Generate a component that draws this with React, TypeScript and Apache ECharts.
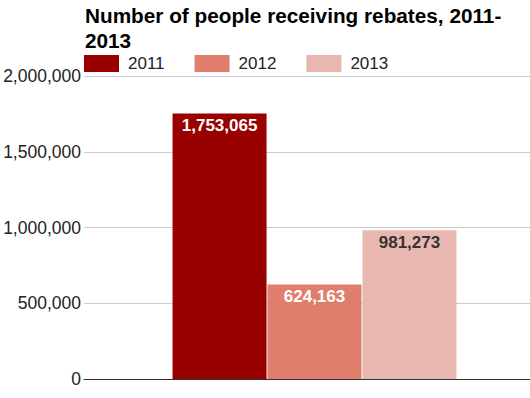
import React, { useEffect, useRef } from "react";
import * as echarts from "echarts";

const categories = ["Rebates"];
const seriesNames = ["2011", "2012", "2013"];
const seriesValues = [1753065, 624163, 981273];
const seriesColors = ["#990000", "#df7e6d", "#e8b8b0"];
const labelColors = ["#ffffff", "#ffffff", "#333333"];
const yTicks = [0, 500000, 1000000, 1500000, 2000000];

const fmt = (v: number) => v.toLocaleString("en-US");

export default function App() {
  const ref = useRef<HTMLDivElement>(null);
  useEffect(() => {
    if (!ref.current) return;
    const chart = echarts.init(ref.current, undefined, { renderer: "svg" });
    const font = "'Liberation Sans', Arial, sans-serif";
    chart.setOption({
      animation: false,
      textStyle: { fontFamily: font },
      title: {
        text: "Number of people receiving rebates, 2011-\n2013",
        left: 80,
        top: -2,
        textStyle: {
          fontFamily: font,
          fontWeight: "bold",
          fontSize: 20.75,
          lineHeight: 25,
          color: "#000",
        },
      },
      legend: {
        data: seriesNames,
        left: 84,
        top: 55,
        itemWidth: 35,
        itemHeight: 17,
        itemGap: 30,
        padding: 0,
        icon: "rect",
        textStyle: { fontFamily: font, fontSize: 17, color: "#222", padding: [0, 0, 0, 4] },
      },
      grid: {
        left: 84,
        right: -15,
        top: 76,
        bottom: 19,
        containLabel: false,
        outerBoundsMode: "none",
      },
      xAxis: {
        type: "category",
        data: categories,
        axisLine: { lineStyle: { color: "#333", width: 1 } },
        axisTick: { show: false },
        axisLabel: { show: false },
      },
      yAxis: {
        type: "value",
        min: yTicks[0],
        max: yTicks[yTicks.length - 1],
        interval: 500000,
        axisLine: { show: false },
        axisTick: { show: false },
        splitLine: { lineStyle: { color: "#cccccc" } },
        axisLabel: {
          fontFamily: font,
          fontSize: 17.5,
          color: "#222",
          margin: 3,
          formatter: (v: number) => fmt(v),
        },
      },
      series: seriesNames.map((name, i) => ({
        name,
        type: "bar",
        data: [seriesValues[i]],
        barWidth: 94,
        barGap: "1%",
        itemStyle: { color: seriesColors[i] },
        label: {
          show: true,
          position: "insideTop",
          distance: 4,
          formatter: (p: any) => fmt(p.value),
          fontFamily: font,
          fontWeight: "bold",
          fontSize: 17,
          color: labelColors[i],
        },
      })),
    });
    return () => chart.dispose();
  }, []);
  return <div ref={ref} style={{ width: 530, height: 398, position: "absolute", left: 0, top: 0 }} />;
}
